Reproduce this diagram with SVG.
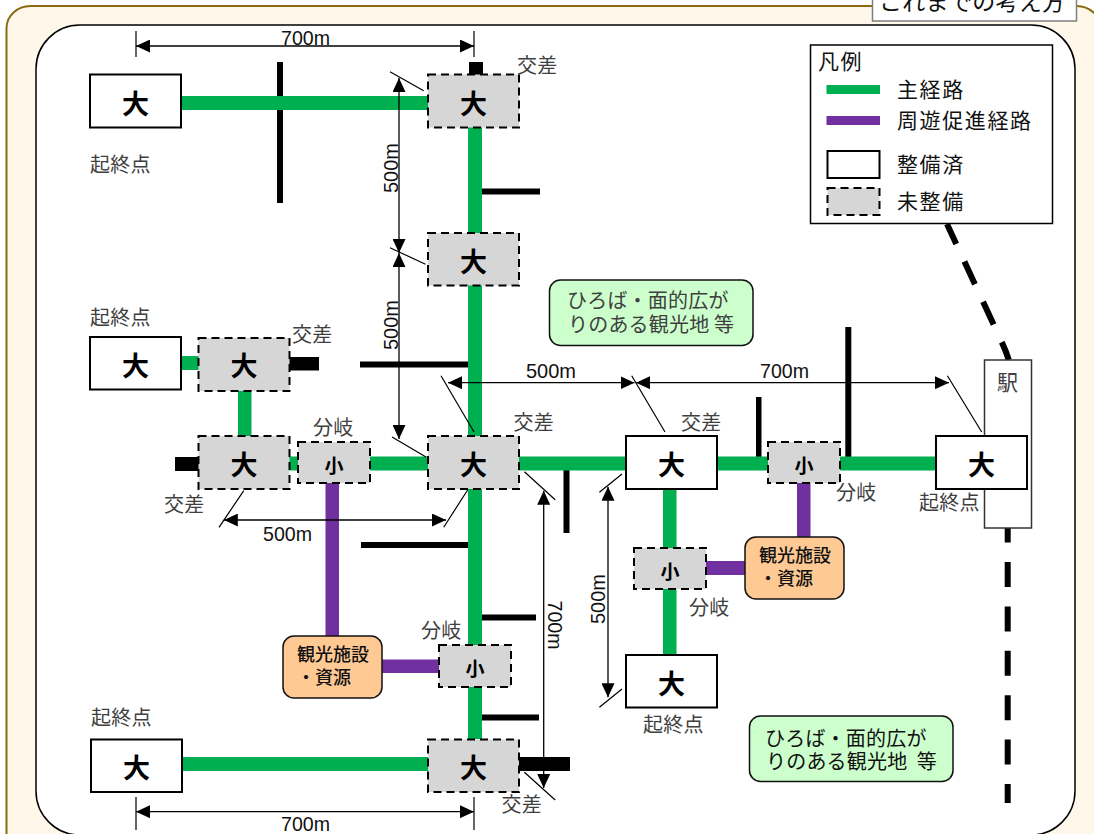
<svg xmlns="http://www.w3.org/2000/svg" width="1094" height="834" viewBox="0 0 1094 834">
<style>
text{font-family:"Noto Sans CJK JP","Liberation Sans",sans-serif}
.lbl{font-size:20px;fill:#404040;letter-spacing:.2px}
.leg{font-size:21px;fill:#111;letter-spacing:1.6px}
.m{font-family:"Liberation Sans",Arial,sans-serif;font-size:21px;fill:#111}
.big{font-size:27px;font-weight:700;text-anchor:middle;fill:#000}
.sm{font-size:19px;font-weight:700;text-anchor:middle;fill:#000}
.fac{font-size:18px;font-weight:500;fill:#111}
.done{fill:#fff;stroke:#000;stroke-width:2}
.todo{fill:#d6d6d6;stroke:#000;stroke-width:2;stroke-dasharray:8 5}
.gr{fill:#00af50}.pu{fill:#7030a0}.bk{fill:#000}
.dim{stroke:#000;stroke-width:1.3;fill:none;marker-start:url(#a);marker-end:url(#a)}
.tick{stroke:#000;stroke-width:1.2;fill:none}
.area{fill:#ccffcc;stroke:#111;stroke-width:1.5}
.res{fill:#ffc993;stroke:#111;stroke-width:1.5}
.rail{stroke:#000;stroke-width:6;fill:none;stroke-dasharray:25 19.4}
</style>
<defs>
<marker id="a" markerUnits="userSpaceOnUse" markerWidth="14" markerHeight="13" refX="14" refY="6.5" orient="auto-start-reverse"><path d="M0,0L14,6.5L0,13Z" fill="#000"/></marker>
</defs>
<rect width="1094" height="834" fill="#fff"/>
<rect id="outer-frame" x="6.5" y="6" width="1094" height="860" rx="24" ry="22" fill="#fff8ea" stroke="#8b6a10" stroke-width="2"/>
<rect id="inner-frame" x="36" y="25" width="1039" height="810" rx="44" ry="44" fill="#fff" stroke="#000" stroke-width="1.5"/>
<g id="title"><rect x="872.5" y="-10" width="204" height="31" fill="#fff" stroke="#7f7f7f" stroke-width="1.5"/><text x="879" y="10" font-size="23" letter-spacing=".3" fill="#111">これまでの考え方</text></g>

<g id="connectors">
<g class="bk">
<rect x="277" y="62" width="6" height="141"/>
<rect x="469" y="62" width="14" height="13"/>
<rect x="482" y="188.5" width="58" height="6"/>
<rect x="289" y="357" width="30" height="13.500"/>
<rect x="360" y="361.500" width="108" height="6"/>
<rect x="175" y="457" width="24" height="14"/>
<rect x="361" y="542" width="107" height="6"/>
<rect x="482" y="614.500" width="54" height="6"/>
<rect x="482" y="714.500" width="57" height="6"/>
<rect x="519" y="757" width="51" height="14"/>
<rect x="563.500" y="470" width="6" height="63"/>
<rect x="756" y="397" width="5.500" height="60"/>
<rect x="845.300" y="327" width="6" height="130"/>
</g>
<g class="gr">
<rect x="181" y="96" width="247" height="14"/>
<rect x="468" y="127" width="14" height="612"/>
<rect x="181" y="356" width="18" height="14"/>
<rect x="238" y="390" width="13.500" height="46"/>
<rect x="289" y="456.500" width="9" height="14"/>
<rect x="370" y="456.500" width="58" height="14"/>
<rect x="519" y="456.500" width="107" height="14"/>
<rect x="717" y="456.500" width="51" height="14"/>
<rect x="840" y="456.500" width="96" height="14"/>
<rect x="663" y="488" width="13.500" height="167"/>
<rect x="182" y="757" width="246" height="14"/>
</g>
<g class="pu">
<rect x="325.500" y="483" width="13.500" height="153"/>
<rect x="381" y="659.500" width="58" height="13.500"/>
<rect x="797" y="483" width="13.500" height="54"/>
<rect x="706" y="561" width="39" height="14"/>
</g>
<path class="rail" d="M947,224L1001.700,342Q1006,351 1008.800,360" stroke-dashoffset="3"/>
<path class="rail" d="M1007.700,528V803" stroke-dashoffset="10.400"/>
</g>

<g id="station"><rect x="984.500" y="360" width="47" height="168" fill="#fff" stroke="#333" stroke-width="1.5"/><text x="997" y="390" font-size="21" fill="#404040">駅</text></g>

<g id="n-a"><rect class="done" x="90" y="74.500" width="91" height="53"/><text class="big" x="135.500" y="113.500">大</text></g>
<g id="n-b"><rect class="todo" x="428" y="74.500" width="91" height="53"/><text class="big" x="473.500" y="113.500">大</text></g>
<g id="n-c"><rect class="todo" x="428" y="233" width="91" height="52.500"/><text class="big" x="473.500" y="271.500">大</text></g>
<g id="n-d"><rect class="done" x="90" y="337" width="91" height="52.500"/><text class="big" x="135.500" y="376">大</text></g>
<g id="n-e"><rect class="todo" x="198.500" y="338" width="91" height="53"/><text class="big" x="244" y="376">大</text></g>
<g id="n-f"><rect class="todo" x="198.500" y="436" width="91" height="53"/><text class="big" x="244" y="474.500">大</text></g>
<g id="n-g"><rect class="todo" x="298" y="442" width="72" height="41"/><text class="sm" x="334" y="472.500">小</text></g>
<g id="n-h"><rect class="todo" x="428" y="436" width="91" height="53"/><text class="big" x="473.500" y="474.500">大</text></g>
<g id="n-i"><rect class="done" x="626" y="436" width="91" height="53"/><text class="big" x="671.500" y="474.500">大</text></g>
<g id="n-j"><rect class="todo" x="768" y="442" width="72" height="41"/><text class="sm" x="804" y="472.500">小</text></g>
<g id="n-k"><rect class="done" x="936" y="436" width="91" height="53"/><text class="big" x="981.500" y="474.500">大</text></g>
<g id="n-l"><rect class="todo" x="634" y="548" width="72" height="41"/><text class="sm" x="670" y="578.500">小</text></g>
<g id="n-m"><rect class="done" x="626" y="655" width="91" height="52.500"/><text class="big" x="671.500" y="693.500">大</text></g>
<g id="n-n"><rect class="todo" x="439" y="645" width="72" height="42"/><text class="sm" x="475" y="675.500">小</text></g>
<g id="n-o"><rect class="done" x="91" y="739.500" width="91" height="52.500"/><text class="big" x="136.500" y="778">大</text></g>
<g id="n-p"><rect class="todo" x="428" y="739.500" width="91" height="52.500"/><text class="big" x="473.500" y="778">大</text></g>

<g id="res-1"><rect class="res" x="283" y="636" width="99" height="62" rx="11"/><text class="fac" x="297" y="661">観光施設</text><text class="fac" x="297" y="684">・資源</text></g>
<g id="res-2"><rect class="res" x="745" y="537" width="99" height="62" rx="11"/><text class="fac" x="759" y="562">観光施設</text><text class="fac" x="759" y="585">・資源</text></g>
<g id="area-1"><rect class="area" x="549.500" y="280" width="203.500" height="65.500" rx="11"/><text class="lbl" x="567" y="308">ひろば・面的広が</text><text class="lbl" x="568" y="332">りのある観光地 等</text></g>
<g id="area-2"><rect class="area" x="749.500" y="716" width="203.500" height="65.500" rx="11"/><text class="lbl" x="765" y="746" style="fill:#111">ひろば・面的広が</text><text class="lbl" x="766" y="769" style="fill:#111" xml:space="preserve">りのある観光地  等</text></g>

<g id="legend">
<rect x="810.500" y="45" width="242" height="178.500" fill="#fff" stroke="#000" stroke-width="1.5"/>
<text class="leg" x="818" y="69">凡例</text>
<rect class="gr" x="826.500" y="85" width="53.500" height="9"/>
<rect class="pu" x="826.500" y="116" width="53.500" height="9"/>
<rect class="done" x="827.500" y="151" width="52" height="27"/>
<rect class="todo" x="827.500" y="188" width="52" height="27"/>
<text class="leg" x="897" y="97">主経路</text>
<text class="leg" x="897" y="128">周遊促進経路</text>
<text class="leg" x="897" y="172">整備済</text>
<text class="leg" x="897" y="209">未整備</text>
</g>

<g id="labels">
<text class="lbl" x="90" y="172">起終点</text>
<text class="lbl" x="90" y="325">起終点</text>
<text class="lbl" x="517" y="73">交差</text>
<text class="lbl" x="292" y="342">交差</text>
<text class="lbl" x="313" y="435">分岐</text>
<text class="lbl" x="513.500" y="430">交差</text>
<text class="lbl" x="681" y="430">交差</text>
<text class="lbl" x="164" y="512">交差</text>
<text class="lbl" x="836" y="500">分岐</text>
<text class="lbl" x="919" y="510">起終点</text>
<text class="lbl" x="689" y="615">分岐</text>
<text class="lbl" x="421" y="638">分岐</text>
<text class="lbl" x="91" y="725">起終点</text>
<text class="lbl" x="643" y="732">起終点</text>
<text class="lbl" x="501.500" y="812">交差</text>
</g>

<g id="dimensions">
<path class="dim" d="M136,46H474"/>
<path class="dim" d="M399,78V253"/>
<path class="dim" d="M399,253V439"/>
<path class="dim" d="M448,382.700H634.500"/>
<path class="dim" d="M636,382.700H949"/>
<path class="dim" d="M223.800,520H446"/>
<path class="dim" d="M543.700,490.700V788"/>
<path class="dim" d="M608,486.700V697.300"/>
<path class="dim" d="M136,811.700H474"/>
<path class="tick" d="M136,31V57M474,31V57M136,797V830M474,797V830M390,71.700L423.700,90.700M390,247.700L425.500,264.300M392,437L426,457M441,375.700L474,432M631.700,375.700L665,432M947.400,375.700L981.700,432M243.800,490.700L219,527.300M467.600,490L443.700,527.300M524.400,471.700L555.200,499.700M524.400,772.300L555.200,800M622,474L599.400,492.300M622,689L599.400,707.300"/>
<text class="m" x="281" y="44.500" textLength="49" lengthAdjust="spacingAndGlyphs">700m</text>
<text class="m" x="281" y="831" textLength="49" lengthAdjust="spacingAndGlyphs">700m</text>
<text class="m" x="526" y="378" textLength="50" lengthAdjust="spacingAndGlyphs">500m</text>
<text class="m" x="760" y="378" textLength="49" lengthAdjust="spacingAndGlyphs">700m</text>
<text class="m" x="263" y="541" textLength="49" lengthAdjust="spacingAndGlyphs">500m</text>
<text class="m" transform="translate(398,193) rotate(-90)" textLength="50" lengthAdjust="spacingAndGlyphs">500m</text>
<text class="m" transform="translate(398,350) rotate(-90)" textLength="50" lengthAdjust="spacingAndGlyphs">500m</text>
<text class="m" transform="translate(605,624) rotate(-90)" textLength="50" lengthAdjust="spacingAndGlyphs">500m</text>
<text class="m" transform="translate(548,600.500) rotate(90)" textLength="49" lengthAdjust="spacingAndGlyphs">700m</text>
</g>
</svg>
